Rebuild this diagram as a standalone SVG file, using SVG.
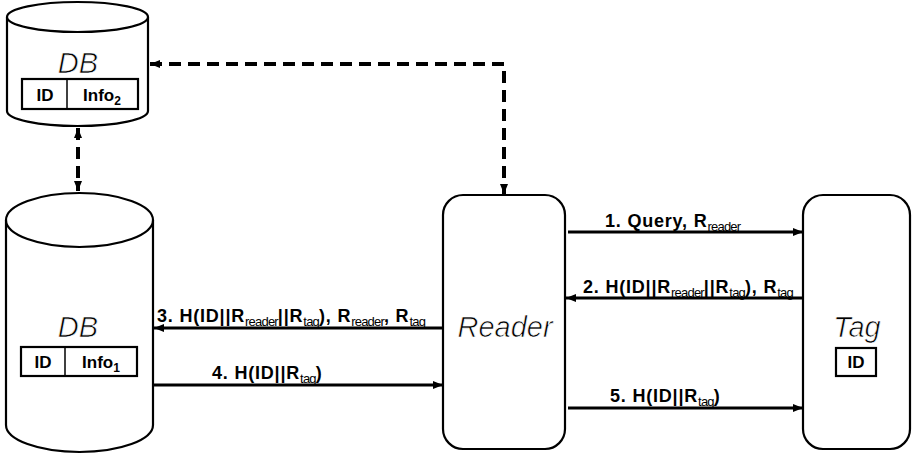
<svg xmlns="http://www.w3.org/2000/svg" width="914" height="455" viewBox="0 0 914 455">
<style>
.shape{fill:#fff;stroke:#000;stroke-width:2.2}
.title{font-family:"Liberation Sans",Arial,sans-serif;font-style:italic;font-size:29px;fill:#000;stroke:#fff;stroke-width:0.7;text-anchor:middle}
.cell{font-family:"Liberation Sans",Arial,sans-serif;font-weight:bold;font-size:17px;fill:#000;text-anchor:middle}
.lbl{font-family:"Liberation Sans",Arial,sans-serif;font-weight:bold;font-size:18px;letter-spacing:0.8px;fill:#000}
.sub{font-size:13px;font-weight:normal;letter-spacing:-0.8px}
.solid{fill:none;stroke:#000;stroke-width:3}
.dash{fill:none;stroke:#000;stroke-width:4;stroke-dasharray:12 7}
</style>
<defs>
<marker id="ah" markerUnits="userSpaceOnUse" markerWidth="10" markerHeight="8" refX="10" refY="4" orient="auto-start-reverse">
<path d="M0,0 L10,4 L0,8 z" fill="#000"/>
</marker>
</defs>

<g id="db2">
<path class="shape" d="M7,17 L7,111 A70.5,15 0 0 0 148,111 L148,17"/>
<ellipse class="shape" cx="77.5" cy="17" rx="70.5" ry="15"/>
<text class="title" x="78" y="73">DB</text>
<rect class="shape" x="22" y="79" width="116" height="30" stroke-width="2.5"/>
<line x1="67" y1="79" x2="67" y2="109" stroke="#000" stroke-width="1.5"/>
<text class="cell" x="45" y="101">ID</text>
<text class="cell" x="102" y="101">Info<tspan font-size="12" dy="4">2</tspan></text>
</g>

<g id="db1">
<path class="shape" d="M6,220 L6,425 A73.5,27 0 0 0 153,425 L153,220"/>
<ellipse class="shape" cx="79.5" cy="220" rx="73.5" ry="27"/>
<text class="title" x="78" y="337">DB</text>
<rect class="shape" x="21" y="347" width="116" height="29" stroke-width="2.5"/>
<line x1="65" y1="347" x2="65" y2="376" stroke="#000" stroke-width="1.5"/>
<text class="cell" x="43" y="368">ID</text>
<text class="cell" x="101" y="368">Info<tspan font-size="12" dy="4">1</tspan></text>
</g>

<g id="reader">
<rect class="shape" x="443" y="195" width="122" height="254" rx="20"/>
<text class="title" x="505" y="337">Reader</text>
</g>

<g id="tag">
<rect class="shape" x="803" y="195" width="107" height="254" rx="20"/>
<text class="title" x="857" y="337">Tag</text>
<rect class="shape" x="836" y="348" width="40" height="28" stroke-width="2.5"/>
<text class="cell" x="856" y="368">ID</text>
</g>

<g id="connectors">
<line class="dash" x1="78" y1="128" x2="78" y2="191" marker-start="url(#ah)" marker-end="url(#ah)"/>
<path class="dash" d="M150,64 L504,64 L504,194" marker-start="url(#ah)" marker-end="url(#ah)"/>
<line class="solid" x1="568" y1="232" x2="803" y2="232" marker-end="url(#ah)"/>
<line class="solid" x1="803" y1="298" x2="566" y2="298" marker-end="url(#ah)"/>
<line class="solid" x1="443" y1="328" x2="154" y2="328" marker-end="url(#ah)"/>
<line class="solid" x1="153" y1="385" x2="443" y2="385" marker-end="url(#ah)"/>
<line class="solid" x1="568" y1="408" x2="803" y2="408" marker-end="url(#ah)"/>
</g>

<g id="labels">
<text class="lbl" x="605" y="227">1. Query, R<tspan class="sub" dy="4">reader</tspan></text>
<text class="lbl" x="583" y="293">2. H(ID||R<tspan class="sub" dy="4">reader</tspan><tspan dy="-4">||R</tspan><tspan class="sub" dy="4">tag</tspan><tspan dy="-4">), R</tspan><tspan class="sub" dy="4">tag</tspan></text>
<text class="lbl" x="157" y="322">3. H(ID||R<tspan class="sub" dy="4">reader</tspan><tspan dy="-4">||R</tspan><tspan class="sub" dy="4">tag</tspan><tspan dy="-4">), R</tspan><tspan class="sub" dy="4">reader</tspan><tspan dy="-4">, R</tspan><tspan class="sub" dy="4">tag</tspan></text>
<text class="lbl" x="212" y="379">4. H(ID||R<tspan class="sub" dy="4">tag</tspan><tspan dy="-4">)</tspan></text>
<text class="lbl" x="610" y="402">5. H(ID||R<tspan class="sub" dy="4">tag</tspan><tspan dy="-4">)</tspan></text>
</g>
</svg>
